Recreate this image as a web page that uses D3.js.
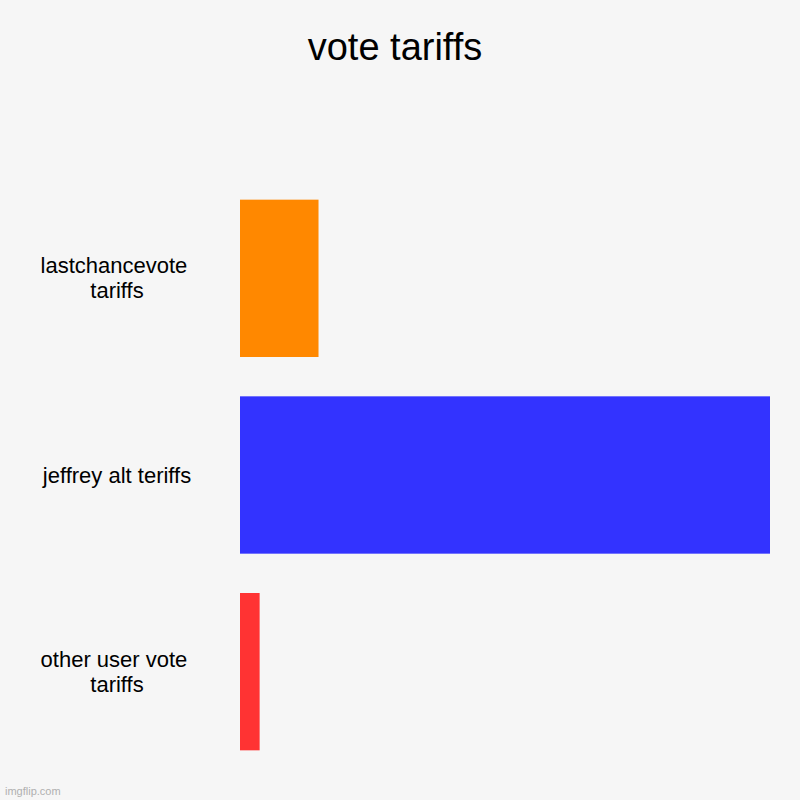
<!DOCTYPE html>
<html><head><meta charset="utf-8">
<script src="https://cdn.jsdelivr.net/npm/d3@7"></script>
<style>html,body{margin:0;padding:0;background:#f6f6f6;}</style>
</head><body>
<svg id="c" width="800" height="800"></svg>
<script>
const title = "vote tariffs";
const categories = ["lastchancevote tariffs", "jeffrey alt teriffs", "other user vote tariffs"];
const values = [4, 27, 1];
const colors = ["#ff8800", "#3333ff", "#ff3333"];

const svg = d3.select("#c");
svg.append("rect").attr("width", 800).attr("height", 800).attr("fill", "#f6f6f6");

const y = d3.scaleBand().domain(categories).range([180, 770]).paddingInner(0.2).paddingOuter(0.1);
const x = d3.scaleLinear().domain([0, d3.max(values)]).range([240, 770]);

svg.append("text").attr("x", 395).attr("y", 47).attr("text-anchor", "middle")
  .attr("dominant-baseline", "central")
  .style("font-family", "'Liberation Sans', Arial, sans-serif").style("font-size", "38px")
  .attr("fill", "#000").text(title);

svg.selectAll("rect.bar").data(categories).enter().append("rect").attr("class", "bar")
  .attr("x", x(0)).attr("y", d => y(d))
  .attr("width", (d, i) => x(values[i]) - x(0)).attr("height", y.bandwidth())
  .attr("fill", (d, i) => colors[i]);

// wrap labels
const measure = svg.append("text").style("font-family", "'Liberation Sans', Arial, sans-serif").style("font-size", "22px");
function wrap(str, maxW) {
  const words = str.split(" ");
  const lines = [];
  let cur = "";
  words.forEach(w => {
    const t = cur ? cur + " " + w : w;
    measure.text(t);
    if (measure.node().getComputedTextLength() > maxW && cur) { lines.push(cur + " "); cur = w; }
    else cur = t;
  });
  lines.push(cur);
  return lines;
}
const lh = 25;
categories.forEach(c => {
  const lines = wrap(c, 175);
  const cy = y(c) + y.bandwidth() / 2;
  const t = svg.append("text").attr("text-anchor", "middle")
    .style("font-family", "'Liberation Sans', Arial, sans-serif").style("font-size", "22px")
    .style("white-space", "pre").attr("fill", "#000");
  lines.forEach((l, i) => {
    t.append("tspan").attr("x", 117).attr("y", cy - (lines.length - 1) * lh / 2 + i * lh)
      .attr("dominant-baseline", "central").text(l);
  });
});
measure.remove();

svg.append("text").attr("x", 5).attr("y", 795).style("font-family", "'Liberation Sans', Arial, sans-serif")
  .style("font-size", "11px").attr("fill", "#b0b0b0").text("imgflip.com");
</script>
</body></html>
